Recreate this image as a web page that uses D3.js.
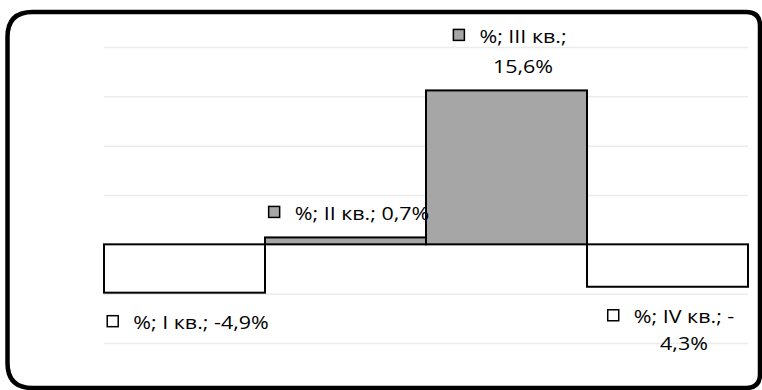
<!DOCTYPE html>
<html>
<head>
<meta charset="utf-8">
<script src="https://cdn.jsdelivr.net/npm/d3@7"></script>
<style>
  body { margin: 0; background: #fff; }
  svg { display: block; }
</style>
</head>
<body>
<svg id="chart" width="762" height="390"></svg>
<script>
// Quarterly change, percent
const seriesName = "%";
const categories = ["I кв.", "II кв.", "III кв.", "IV кв."];
const values = [-4.9, 0.7, 15.6, -4.3];
const yTicks = [-10, -5, 0, 5, 10, 15, 20];
// labels that wrap onto a second line
const wrapLabel = [false, false, true, true];

const svg = d3.select("#chart");
const FONT = "'Open Sans', sans-serif";
const FONT_SIZE = 19;
const TEXT_SX = 1.13;   // labels are set slightly wide

const x = d3.scaleBand().domain(categories).range([104, 748]).padding(0);
const y = d3.scaleLinear().domain([-10, 20]).range([343, 47]);

// outer frame with rounded corners
const L = 7.5, T = 12, R = 760, B = 388, rl = 25, rr = 14;
svg.append("path")
  .attr("d", `M${L + rl},${T} H${R - rr} Q${R},${T} ${R},${T + rr} V${B - rr} Q${R},${B} ${R - rr},${B} H${L + rl} Q${L},${B} ${L},${B - rl} V${T + rl} Q${L},${T} ${L + rl},${T} Z`)
  .attr("fill", "#fff")
  .attr("stroke", "#000")
  .attr("stroke-width", 4.5);

// horizontal gridlines
const grid = svg.append("g")
  .attr("transform", `translate(104,0)`)
  .call(d3.axisLeft(y).tickValues(yTicks).tickSize(-(748 - 104)).tickFormat(""));
grid.select(".domain").remove();
grid.selectAll(".tick line").attr("stroke", "#ececec").attr("stroke-width", 1.5);

// bars
const data = categories.map((c, i) => ({ cat: c, value: values[i], wrap: wrapLabel[i] }));
const fillOf = v => (v >= 0 ? "#a6a6a6" : "#ffffff");

svg.append("g").selectAll("rect")
  .data(data)
  .join("rect")
  .attr("x", d => x(d.cat))
  .attr("width", x.bandwidth())
  .attr("y", d => y(Math.max(0, d.value)))
  .attr("height", d => Math.abs(y(d.value) - y(0)))
  .attr("fill", d => fillOf(d.value))
  .attr("stroke", "#000")
  .attr("stroke-width", 2);

// data labels: legend key + "series; category; value"
const fmt = v => d3.format(".1f")(v).replace(".", ",").replace("−", "-");

data.forEach(d => {
  let lines;
  if (d.wrap) {
    const head = `${seriesName}; ${d.cat};` + (d.value < 0 ? " -" : "");
    const tail = fmt(Math.abs(d.value)) + "%";
    lines = [head, tail];
  } else {
    lines = [`${seriesName}; ${d.cat}; ${fmt(d.value)}%`];
  }
  const lineH = d.value < 0 ? 27 : 30;
  const g = svg.append("g");
  const t = g.append("text")
    .attr("font-family", FONT)
    .attr("font-size", FONT_SIZE)
    .attr("fill", "#000")
    .attr("text-anchor", "middle");
  lines.forEach((s, i) => t.append("tspan").attr("x", 0).attr("y", i * lineH).text(s));
  const maxW = TEXT_SX * d3.max(t.selectAll("tspan").nodes(), n => n.getComputedTextLength());

  const cx = x(d.cat) + x.bandwidth() / 2 + 3.5;
  const keyLeft = cx - (26 + maxW) / 2;
  const textCx = keyLeft + 26 + maxW / 2;
  const firstBase = d.value < 0
    ? y(d.value) + 36.5
    : y(d.value) - 17.5 - (lines.length - 1) * lineH;

  t.attr("transform", `translate(${textCx},${firstBase}) scale(${TEXT_SX},1)`);
  g.append("rect")
    .attr("x", keyLeft)
    .attr("y", firstBase - 8 - 5.5)
    .attr("width", 11)
    .attr("height", 11)
    .attr("fill", fillOf(d.value))
    .attr("stroke", "#000")
    .attr("stroke-width", 1.5);
});
</script>
</body>
</html>
